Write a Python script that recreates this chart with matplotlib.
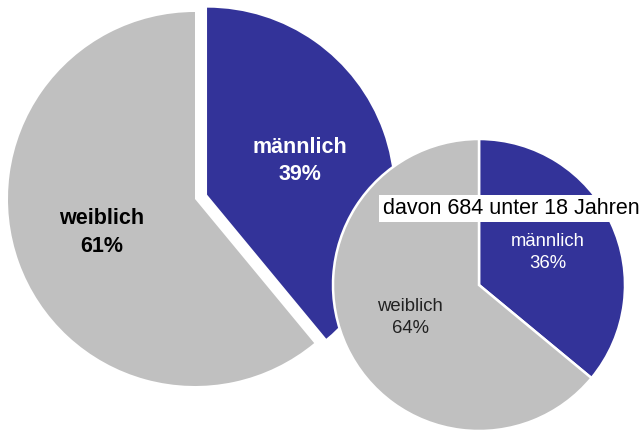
import matplotlib
matplotlib.use("Agg")
import matplotlib.pyplot as plt

plt.rcParams['font.family'] = ['Liberation Sans', 'DejaVu Sans']

# Daten
gruppen = ['männlich', 'weiblich']
anteil_gesamt = [39, 61]
anteil_u18 = [36, 64]
titel_u18 = 'davon 684 unter 18 Jahren'

blau = '#333399'
grau = '#C0C0C0'

fig = plt.figure(figsize=(6.43, 4.30), dpi=100)
ax = fig.add_axes([0, 0, 1, 1])

# Gesamt (explode in Dateneinheiten)
labels = [f'{g}\n{a}%' for g, a in zip(gruppen, anteil_gesamt)]
w, t = ax.pie(anteil_gesamt, labels=labels, colors=[blau, grau],
              startangle=90, counterclock=False, explode=[12.8, 0],
              center=(195, 231), radius=187, labeldistance=0.53,
              textprops=dict(fontsize=15.5, fontweight='bold'),
              frame=True)
for txt, c in zip(t, ['white', 'black']):
    txt.set_ha('center')
    txt.set_va('center')
    txt.set_color(c)
    txt.set_linespacing(1.4)

# unter 18
labels = [f'{g}\n{a}%' for g, a in zip(gruppen, anteil_u18)]
w2, t2 = ax.pie(anteil_u18, labels=labels, colors=[blau, grau],
                startangle=90, counterclock=False,
                center=(479, 145), radius=146, labeldistance=0.52,
                wedgeprops=dict(edgecolor='white', linewidth=1.8),
                textprops=dict(fontsize=13.3),
                frame=True)
for txt, c in zip(t2, ['white', '#222222']):
    txt.set_ha('center')
    txt.set_va('center')
    txt.set_color(c)
    txt.set_linespacing(1.4)

ax.set_xlim(0, 643)
ax.set_ylim(0, 430)
ax.set_aspect('equal')
ax.axis('off')

ax.text(511, 221.5, titel_u18, ha='center', va='center', fontsize=15.5,
        color='black',
        bbox=dict(facecolor='white', edgecolor='none', pad=2.5))

fig.savefig('out.png', dpi=100)
